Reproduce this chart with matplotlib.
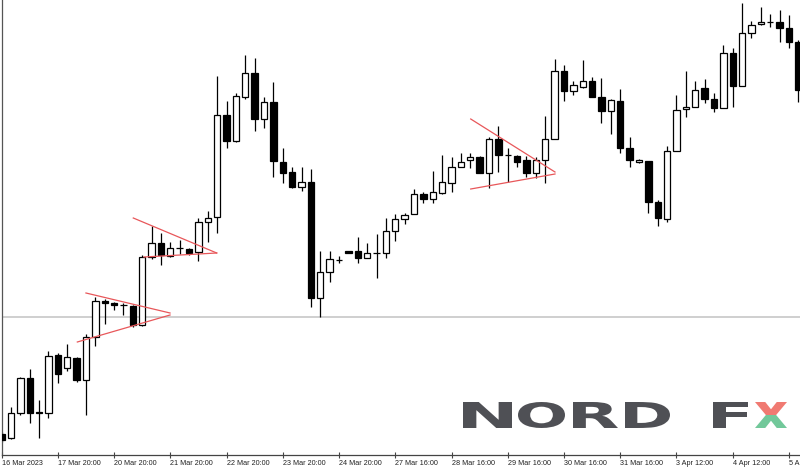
import matplotlib
matplotlib.use("Agg")
import matplotlib.pyplot as plt
import numpy as np
from matplotlib.patches import PathPatch, Polygon
from matplotlib.textpath import TextPath
from matplotlib.font_manager import FontProperties
from matplotlib.transforms import Affine2D

# EUR/USD H4 candles, 16 Mar 2023 20:00 -> 5 Apr 2023
opens = [1.0542, 1.0538, 1.0563, 1.0598, 1.0564, 1.0563, 1.0621, 1.0608, 1.0618, 1.0596,
         1.0639, 1.0675, 1.0673, 1.0671, 1.0670, 1.0651, 1.0719, 1.0733, 1.0720, 1.0728,
         1.0727, 1.0724, 1.0754, 1.0759, 1.0861, 1.0835, 1.0879, 1.0903, 1.0857, 1.0874,
         1.0814, 1.0804, 1.0789, 1.0794, 1.0678, 1.0704, 1.0716, 1.0725, 1.0725, 1.0718,
         1.0723, 1.0723, 1.0745, 1.0757, 1.0762, 1.0782, 1.0777, 1.0783, 1.0793, 1.0809,
         1.0816, 1.0819, 1.0803, 1.0837, 1.0821, 1.0820, 1.0816, 1.0803, 1.0816, 1.0837,
         1.0905, 1.0885, 1.0889, 1.0895, 1.0879, 1.0865, 1.0875, 1.0828, 1.0814, 1.0815,
         1.0774, 1.0757, 1.0825, 1.0867, 1.0869, 1.0888, 1.0877, 1.0868, 1.0923, 1.0890,
         1.0943, 1.0952, 1.0954, 1.0954, 1.0948, 1.0934]
highs = [1.0544, 1.0569, 1.0599, 1.0607, 1.0576, 1.0625, 1.0623, 1.0632, 1.0619, 1.0642,
         1.0679, 1.0677, 1.0674, 1.0673, 1.0671, 1.0721, 1.0750, 1.0743, 1.0734, 1.0736,
         1.0728, 1.0758, 1.0765, 1.0900, 1.0875, 1.0883, 1.0921, 1.0918, 1.0879, 1.0894,
         1.0828, 1.0809, 1.0809, 1.0807, 1.0725, 1.0725, 1.0720, 1.0725, 1.0739, 1.0733,
         1.0742, 1.0758, 1.0762, 1.0763, 1.0787, 1.0784, 1.0805, 1.0821, 1.0819, 1.0823,
         1.0823, 1.0820, 1.0839, 1.0850, 1.0828, 1.0821, 1.0820, 1.0819, 1.0860, 1.0917,
         1.0911, 1.0895, 1.0916, 1.0899, 1.0898, 1.0877, 1.0887, 1.0839, 1.0817, 1.0815,
         1.0776, 1.0830, 1.0881, 1.0905, 1.0895, 1.0897, 1.0883, 1.0931, 1.0928, 1.0973,
         1.0955, 1.0969, 1.0962, 1.0966, 1.0961, 1.0936]
lows = [1.0534, 1.0537, 1.0561, 1.0553, 1.0538, 1.0558, 1.0593, 1.0605, 1.0594, 1.0561,
        1.0630, 1.0652, 1.0666, 1.0661, 1.0649, 1.0650, 1.0717, 1.0711, 1.0719, 1.0722,
        1.0721, 1.0715, 1.0734, 1.0743, 1.0828, 1.0834, 1.0877, 1.0845, 1.0848, 1.0799,
        1.0793, 1.0788, 1.0785, 1.0669, 1.0659, 1.0694, 1.0713, 1.0723, 1.0713, 1.0718,
        1.0698, 1.0718, 1.0735, 1.0752, 1.0762, 1.0773, 1.0773, 1.0782, 1.0784, 1.0809,
        1.0808, 1.0803, 1.0788, 1.0804, 1.0794, 1.0809, 1.0799, 1.0798, 1.0793, 1.0837,
        1.0875, 1.0881, 1.0888, 1.0879, 1.0853, 1.0842, 1.0823, 1.0809, 1.0813, 1.0763,
        1.0750, 1.0754, 1.0825, 1.0859, 1.0869, 1.0873, 1.0864, 1.0868, 1.0869, 1.0890,
        1.0938, 1.0951, 1.0949, 1.0934, 1.0928, 1.0874]
closes = [1.0536, 1.0563, 1.0598, 1.0563, 1.0563, 1.0620, 1.0602, 1.0619, 1.0596, 1.0639,
          1.0675, 1.0673, 1.0671, 1.0671, 1.0651, 1.0719, 1.0733, 1.0721, 1.0728, 1.0728,
          1.0723, 1.0754, 1.0758, 1.0861, 1.0835, 1.0880, 1.0903, 1.0857, 1.0874, 1.0815,
          1.0803, 1.0789, 1.0794, 1.0678, 1.0704, 1.0717, 1.0716, 1.0723, 1.0718, 1.0723,
          1.0723, 1.0745, 1.0757, 1.0761, 1.0782, 1.0777, 1.0784, 1.0794, 1.0809, 1.0814,
          1.0819, 1.0803, 1.0837, 1.0821, 1.0821, 1.0814, 1.0803, 1.0816, 1.0837, 1.0905,
          1.0885, 1.0891, 1.0895, 1.0879, 1.0865, 1.0876, 1.0828, 1.0816, 1.0816, 1.0774,
          1.0758, 1.0825, 1.0866, 1.0869, 1.0886, 1.0877, 1.0868, 1.0923, 1.0890, 1.0943,
          1.0951, 1.0954, 1.0954, 1.0948, 1.0934, 1.0886]

tick_labels = ["16 Mar 2023", "17 Mar 20:00", "20 Mar 20:00", "21 Mar 20:00", "22 Mar 20:00",
               "23 Mar 20:00", "24 Mar 20:00", "27 Mar 16:00", "28 Mar 16:00", "29 Mar 16:00",
               "30 Mar 16:00", "31 Mar 16:00", "3 Apr 12:00", "4 Apr 12:00", "5 Apr 12:00"]
bars_per_label = 6

# triangle trendlines (bar index, price) start -> end
tri_x0 = [9.0, 8.08, 14.05, 15.19, 50.05, 50.05]
tri_p0 = [1.0683, 1.0634, 1.0758, 1.0719, 1.0857, 1.0787]
tri_x1 = [17.97, 17.97, 22.95, 22.95, 59.04, 59.04]
tri_p1 = [1.0663, 1.0661, 1.0723, 1.0723, 1.0804, 1.0802]

hline_price = 1.0659

W, H = 800, 470
fig = plt.figure(figsize=(W / 100, H / 100), dpi=100)
ax = fig.add_axes([1.5 / W, 15 / H, 1 - 1.5 / W, 455 / H])

x = np.arange(len(closes))
o = np.array(opens)
c = np.array(closes)
hi = np.array(highs)
lo = np.array(lows)

ax.axhline(hline_price, color="#cfcfcf", lw=1.4, zorder=1)

ax.vlines(x, lo, hi, color="black", lw=0.9, zorder=2)
up = c >= o
body_lo = np.minimum(o, c)
body_h = np.abs(c - o)
ax.bar(x[up], body_h[up], bottom=body_lo[up], width=0.68, color="white",
       edgecolor="black", linewidth=0.9, zorder=3)
ax.bar(x[~up], body_h[~up], bottom=body_lo[~up], width=0.68, color="black",
       edgecolor="black", linewidth=0.9, zorder=3)

for xa, pa, xb, pb in zip(tri_x0, tri_p0, tri_x1, tri_p1):
    ax.plot([xa, xb], [pa, pb], color="#e8575a", lw=0.9, zorder=4)

ax.set_xlim(-0.01, 85.18)
ax.set_ylim(1.0521, 1.0976)

ticks = np.arange(len(tick_labels)) * bars_per_label
ax.set_xticks(ticks)
ax.set_xticklabels(tick_labels, fontsize=5.2, family="Liberation Sans", color="#222222")
for lbl in ax.get_xticklabels():
    lbl.set_ha("left")
ax.tick_params(axis="x", direction="inout", length=4, width=0.8, color="#444444", pad=1.5)
ax.set_yticks([])
for s in ["top", "right"]:
    ax.spines[s].set_visible(False)
ax.spines["left"].set_color("#555555")
ax.spines["bottom"].set_color("#444444")
ax.spines["left"].set_linewidth(0.9)
ax.spines["bottom"].set_linewidth(0.9)


# NORD FX logo, letter boxes in image pixels (y down)
def to_fig(px, py):
    return px / W, (H - py) / H


logo_letters = ["N", "O", "R", "D", "F"]
logo_x0 = [463, 518, 573, 625, 713]
logo_x1 = [512, 565, 618, 670, 748]
logo_top, logo_bot = 402, 428
fp = FontProperties(family="DejaVu Sans", weight="bold")
for ch, xa, xb in zip(logo_letters, logo_x0, logo_x1):
    tp = TextPath((0, 0), ch, prop=fp, size=10)
    bb = tp.get_extents()
    tr = (Affine2D().translate(-bb.x0, -bb.y0)
          .scale((xb - xa) / bb.width / W, (logo_bot - logo_top) / bb.height / H)
          .translate(xa / W, (H - logo_bot) / H))
    fig.patches.append(PathPatch(tr.transform_path(tp), facecolor="#4f5055",
                                 edgecolor="none", transform=fig.transFigure))

xa, xb = 755, 787
xm = (xa + xb) / 2
ym = (logo_top + logo_bot) / 2
wx = xb - xa
red = [(xa, logo_top), (xa + 0.32 * wx, logo_top), (xm, logo_top + 0.28 * (logo_bot - logo_top)),
       (xb - 0.32 * wx, logo_top), (xb, logo_top), (xa + 0.66 * wx, ym), (xa + 0.34 * wx, ym)]
green = [(xa + 0.34 * wx, ym), (xa + 0.66 * wx, ym), (xb, logo_bot), (xb - 0.32 * wx, logo_bot),
         (xm, logo_bot - 0.28 * (logo_bot - logo_top)), (xa + 0.32 * wx, logo_bot), (xa, logo_bot)]
fig.patches.append(Polygon([to_fig(*p) for p in red], closed=True, facecolor="#f07a72",
                           edgecolor="none", transform=fig.transFigure))
fig.patches.append(Polygon([to_fig(*p) for p in green], closed=True, facecolor="#72c89a",
                           edgecolor="none", transform=fig.transFigure))

fig.savefig("out.png", dpi=100, facecolor="white")
